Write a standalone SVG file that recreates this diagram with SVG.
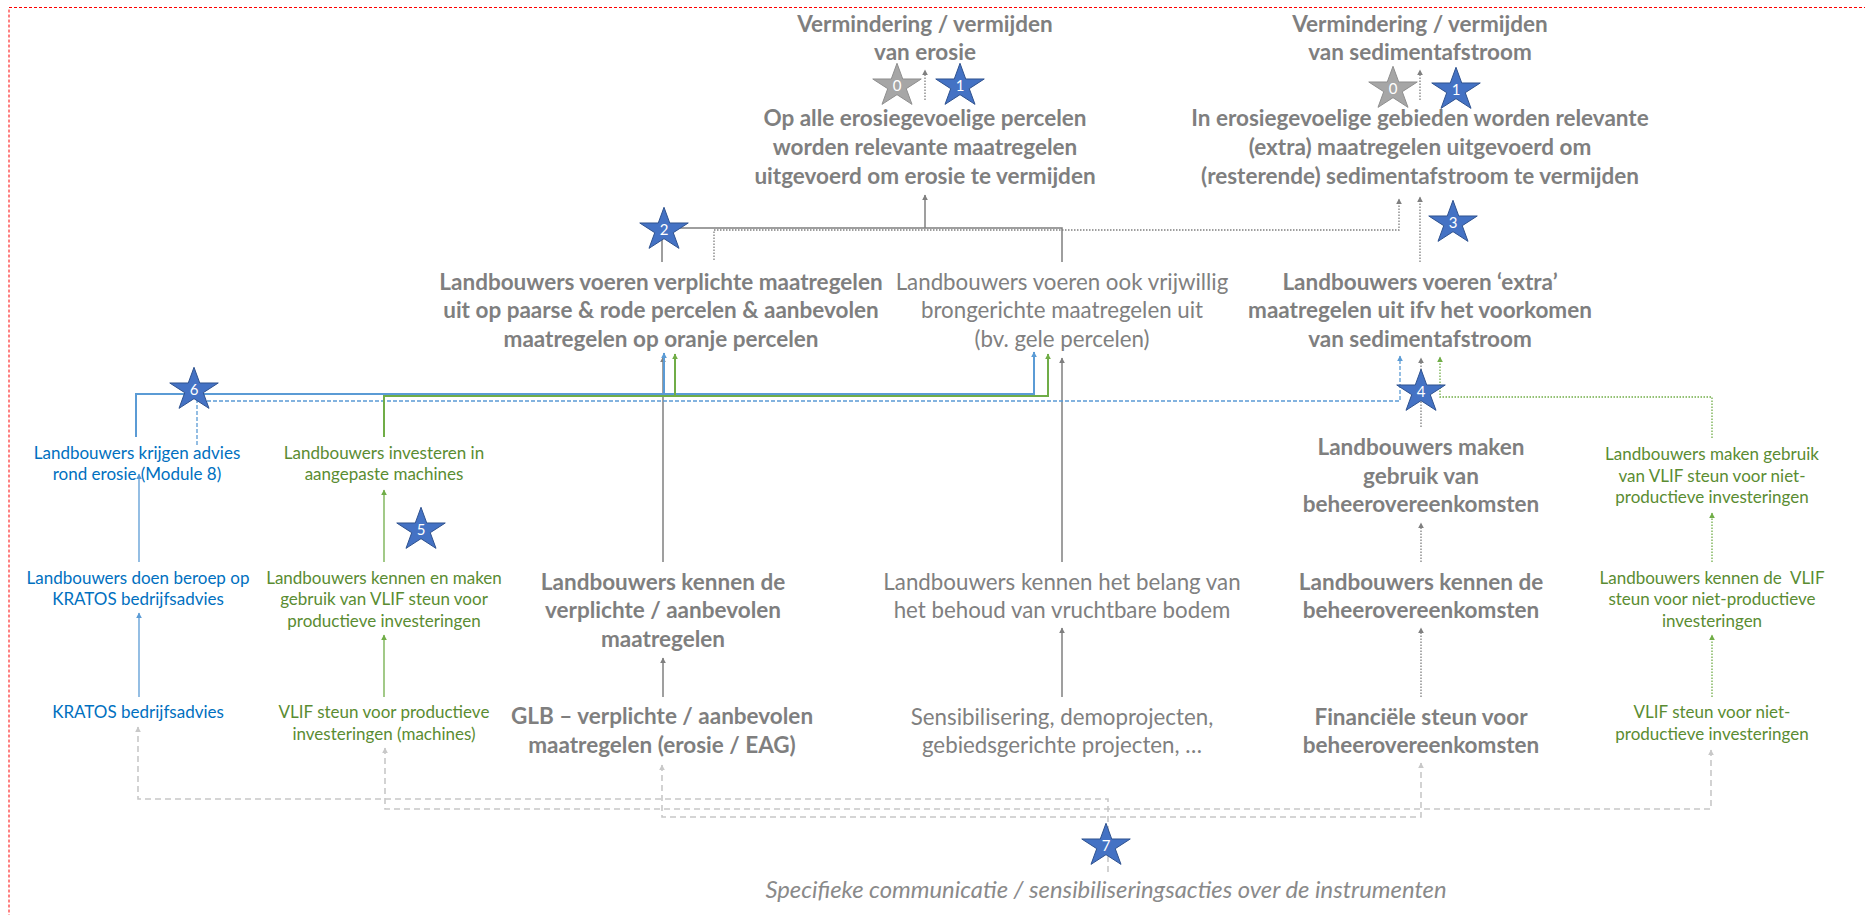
<svg xmlns="http://www.w3.org/2000/svg" xmlns:xlink="http://www.w3.org/1999/xlink" width="1865" height="915" viewBox="0 0 1865 915">
<style>
text{font-family:Lato,"Liberation Sans",sans-serif;text-anchor:middle}
.tb{font-size:22.5px;font-weight:bold;fill:#7f7f7f}
.tr{font-size:22.3px;fill:#808080}
.sb{font-size:17px;fill:#0070c0}
.sg{font-size:17px;fill:#5a8c32}
.it{font-size:23.8px;font-style:italic;fill:#8a8a8a}
.num{font-size:15px;fill:#ffffff}
.c{fill:none}
.gs{stroke:#7f7f7f;stroke-width:1.5}
.gd{stroke:#7f7f7f;stroke-width:1.3;stroke-dasharray:1.5 1.5}
.bs{stroke:#5b9bd5;stroke-width:2}
.bt{stroke:#5b9bd5;stroke-width:1.3}
.bd{stroke:#5b9bd5;stroke-width:1.3;stroke-dasharray:4 2}
.ns{stroke:#70ad47;stroke-width:2}
.nt{stroke:#70ad47;stroke-width:1.3}
.nd{stroke:#70ad47;stroke-width:1.3;stroke-dasharray:1.5 1.5}
.ld{stroke:#c8c8c8;stroke-width:1.6;stroke-dasharray:6 4}
.star{fill:#4472c4;stroke:#2f528f;stroke-width:1}
.star0{fill:#a6a6a6;stroke:#8f8f8f;stroke-width:1}
</style>
<defs>
<polygon id="star" points="0,-22.7 5.72,-7.01 24.25,-7.01 9.26,2.68 15,18.36 0,8.67 -15,18.36 -9.26,2.68 -24.25,-7.01 -5.72,-7.01"/>
<marker id="aG" viewBox="0 0 10 10" refX="9" refY="5" markerWidth="6" markerHeight="6" markerUnits="userSpaceOnUse" orient="auto-start-reverse"><path d="M0,0 L10,5 L0,10 z" fill="#7f7f7f"/></marker>
<marker id="aB" viewBox="0 0 10 10" refX="9" refY="5" markerWidth="6" markerHeight="6" markerUnits="userSpaceOnUse" orient="auto-start-reverse"><path d="M0,0 L10,5 L0,10 z" fill="#5b9bd5"/></marker>
<marker id="aN" viewBox="0 0 10 10" refX="9" refY="5" markerWidth="6" markerHeight="6" markerUnits="userSpaceOnUse" orient="auto-start-reverse"><path d="M0,0 L10,5 L0,10 z" fill="#70ad47"/></marker>
<marker id="aL" viewBox="0 0 10 10" refX="9" refY="5" markerWidth="6" markerHeight="6" markerUnits="userSpaceOnUse" orient="auto-start-reverse"><path d="M0,0 L10,5 L0,10 z" fill="#c8c8c8"/></marker>
</defs>
<rect x="0" y="0" width="1865" height="915" fill="#ffffff"/>
<rect x="9" y="7.5" width="1880" height="940" fill="none" stroke="#ff0000" stroke-width="1" stroke-dasharray="3 2"/>

<g id="connectors" class="c">
<path class="c gs" d="M662,262 V228 H1062 V262"/>
<path class="c gs" d="M925,228 V195" marker-end="url(#aG)"/>
<path class="c gs" d="M663,562 V357" marker-end="url(#aG)"/>
<path class="c gs" d="M1062,562 V358" marker-end="url(#aG)"/>
<path class="c gs" d="M663,697 V658" marker-end="url(#aG)"/>
<path class="c gs" d="M1062,697 V628" marker-end="url(#aG)"/>
<path class="c gd" d="M714,260 V230 H1399 V199" marker-end="url(#aG)"/>
<path class="c gd" d="M925,100 V70" marker-end="url(#aG)"/>
<path class="c gd" d="M1420,100 V70" marker-end="url(#aG)"/>
<path class="c gd" d="M1420,262 V197" marker-end="url(#aG)"/>
<path class="c gd" d="M1421,427 V358" marker-end="url(#aG)"/>
<path class="c gd" d="M1421,562 V523" marker-end="url(#aG)"/>
<path class="c gd" d="M1421,697 V628" marker-end="url(#aG)"/>
<path class="c bs" d="M136,437 V394 H1034 V352" marker-end="url(#aB)"/>
<path class="c bs" d="M664,394 V353" marker-end="url(#aB)"/>
<path class="c bt" d="M139,562 V474" marker-end="url(#aB)"/>
<path class="c bt" d="M139,697 V613" marker-end="url(#aB)"/>
<path class="c bd" d="M197,445 V401 H1400 V356" marker-end="url(#aB)"/>
<path class="c ns" d="M384,437 V396 H1048 V354" marker-end="url(#aN)"/>
<path class="c ns" d="M675,396 V354" marker-end="url(#aN)"/>
<path class="c nt" d="M384,562 V490" marker-end="url(#aN)"/>
<path class="c nt" d="M384,697 V635" marker-end="url(#aN)"/>
<path class="c nd" d="M1712,438 V397 H1440 V357" marker-end="url(#aN)"/>
<path class="c nd" d="M1712,562 V513" marker-end="url(#aN)"/>
<path class="c nd" d="M1712,697 V635" marker-end="url(#aN)"/>
<path class="c ld" d="M1108,872 V799 H138 V727" marker-end="url(#aL)"/>
<path class="c ld" d="M385,748 V809 H1711 V750" marker-start="url(#aL)" marker-end="url(#aL)"/>
<path class="c ld" d="M662,765 V817 H1421 V763" marker-start="url(#aL)" marker-end="url(#aL)"/>
</g>

<g id="goal-erosie">
<text class="tb" x="925" y="32">Vermindering / vermijden</text>
<text class="tb" x="925" y="60">van erosie</text>
</g>
<g id="goal-sediment">
<text class="tb" x="1420" y="32">Vermindering / vermijden</text>
<text class="tb" x="1420" y="60">van sedimentafstroom</text>
</g>
<g id="outcome-erosie">
<text class="tb" x="925" y="126">Op alle erosiegevoelige percelen</text>
<text class="tb" x="925" y="155">worden relevante maatregelen</text>
<text class="tb" x="925" y="184">uitgevoerd om erosie te vermijden</text>
</g>
<g id="outcome-sediment">
<text class="tb" x="1420" y="126">In erosiegevoelige gebieden worden relevante</text>
<text class="tb" x="1420" y="155">(extra) maatregelen uitgevoerd om</text>
<text class="tb" x="1420" y="184">(resterende) sedimentafstroom te vermijden</text>
</g>
<g id="verplicht-uitvoeren">
<text class="tb" x="661" y="290">Landbouwers voeren verplichte maatregelen</text>
<text class="tb" x="661" y="318">uit op paarse &amp; rode percelen &amp; aanbevolen</text>
<text class="tb" x="661" y="347">maatregelen op oranje percelen</text>
</g>
<g id="vrijwillig-uitvoeren">
<text class="tr" x="1062" y="290">Landbouwers voeren ook vrijwillig</text>
<text class="tr" x="1062" y="318">brongerichte maatregelen uit</text>
<text class="tr" x="1062" y="347">(bv. gele percelen)</text>
</g>
<g id="extra-uitvoeren">
<text class="tb" x="1420" y="290">Landbouwers voeren ‘extra’</text>
<text class="tb" x="1420" y="318">maatregelen uit ifv het voorkomen</text>
<text class="tb" x="1420" y="347">van sedimentafstroom</text>
</g>
<g id="advies">
<text class="sb" x="137" y="459">Landbouwers krijgen advies</text>
<text class="sb" x="137" y="480">rond erosie (Module 8)</text>
</g>
<g id="kratos-beroep">
<text class="sb" x="138" y="584">Landbouwers doen beroep op</text>
<text class="sb" x="138" y="605">KRATOS bedrijfsadvies</text>
</g>
<g id="kratos">
<text class="sb" x="138" y="718">KRATOS bedrijfsadvies</text>
</g>
<g id="investeren">
<text class="sg" x="384" y="459">Landbouwers investeren in</text>
<text class="sg" x="384" y="480">aangepaste machines</text>
</g>
<g id="vlif-prod-kennen">
<text class="sg" x="384" y="584">Landbouwers kennen en maken</text>
<text class="sg" x="384" y="605">gebruik van VLIF steun voor</text>
<text class="sg" x="384" y="627">productieve investeringen</text>
</g>
<g id="vlif-prod">
<text class="sg" x="384" y="718">VLIF steun voor productieve</text>
<text class="sg" x="384" y="740">investeringen (machines)</text>
</g>
<g id="kennen-verplicht">
<text class="tb" x="663" y="590">Landbouwers kennen de</text>
<text class="tb" x="663" y="618">verplichte / aanbevolen</text>
<text class="tb" x="663" y="647">maatregelen</text>
</g>
<g id="glb">
<text class="tb" x="662" y="724">GLB – verplichte / aanbevolen</text>
<text class="tb" x="662" y="753">maatregelen (erosie / EAG)</text>
</g>
<g id="kennen-belang">
<text class="tr" x="1062" y="590">Landbouwers kennen het belang van</text>
<text class="tr" x="1062" y="618">het behoud van vruchtbare bodem</text>
</g>
<g id="sensibilisering">
<text class="tr" x="1062" y="725">Sensibilisering, demoprojecten,</text>
<text class="tr" x="1062" y="753">gebiedsgerichte projecten, …</text>
</g>
<g id="bo-gebruik">
<text class="tb" x="1421" y="455">Landbouwers maken</text>
<text class="tb" x="1421" y="484">gebruik van</text>
<text class="tb" x="1421" y="512">beheerovereenkomsten</text>
</g>
<g id="bo-kennen">
<text class="tb" x="1421" y="590">Landbouwers kennen de</text>
<text class="tb" x="1421" y="618">beheerovereenkomsten</text>
</g>
<g id="bo-steun">
<text class="tb" x="1421" y="725">Financiële steun voor</text>
<text class="tb" x="1421" y="753">beheerovereenkomsten</text>
</g>
<g id="vlif-np-gebruik">
<text class="sg" x="1712" y="460">Landbouwers maken gebruik</text>
<text class="sg" x="1712" y="482">van VLIF steun voor niet-</text>
<text class="sg" x="1712" y="503">productieve investeringen</text>
</g>
<g id="vlif-np-kennen">
<text class="sg" x="1712" y="584" xml:space="preserve">Landbouwers kennen de  VLIF</text>
<text class="sg" x="1712" y="605">steun voor niet-productieve</text>
<text class="sg" x="1712" y="627">investeringen</text>
</g>
<g id="vlif-np">
<text class="sg" x="1712" y="718">VLIF steun voor niet-</text>
<text class="sg" x="1712" y="740">productieve investeringen</text>
</g>
<g id="communicatie">
<text class="it" x="1106" y="898">Specifieke communicatie / sensibiliseringsacties over de instrumenten</text>
</g>

<g id="star-0a"><use xlink:href="#star" href="#star" class="star0" x="897" y="86"/><text class="num" x="897" y="91">0</text></g>
<g id="star-1a"><use xlink:href="#star" href="#star" class="star" x="960" y="86"/><text class="num" x="960" y="91">1</text></g>
<g id="star-0b"><use xlink:href="#star" href="#star" class="star0" x="1393" y="89"/><text class="num" x="1393" y="94">0</text></g>
<g id="star-1b"><use xlink:href="#star" href="#star" class="star" x="1456" y="90"/><text class="num" x="1456" y="95">1</text></g>
<g id="star-2"><use xlink:href="#star" href="#star" class="star" x="664" y="230"/><text class="num" x="664" y="235">2</text></g>
<g id="star-3"><use xlink:href="#star" href="#star" class="star" x="1453" y="223"/><text class="num" x="1453" y="228">3</text></g>
<g id="star-4"><use xlink:href="#star" href="#star" class="star" x="1421" y="392"/><text class="num" x="1421" y="397">4</text></g>
<g id="star-5"><use xlink:href="#star" href="#star" class="star" x="421" y="530"/><text class="num" x="421" y="535">5</text></g>
<g id="star-6"><use xlink:href="#star" href="#star" class="star" x="194" y="390"/><text class="num" x="194" y="395">6</text></g>
<g id="star-7"><use xlink:href="#star" href="#star" class="star" x="1106" y="846"/><text class="num" x="1106" y="851">7</text></g>
</svg>
